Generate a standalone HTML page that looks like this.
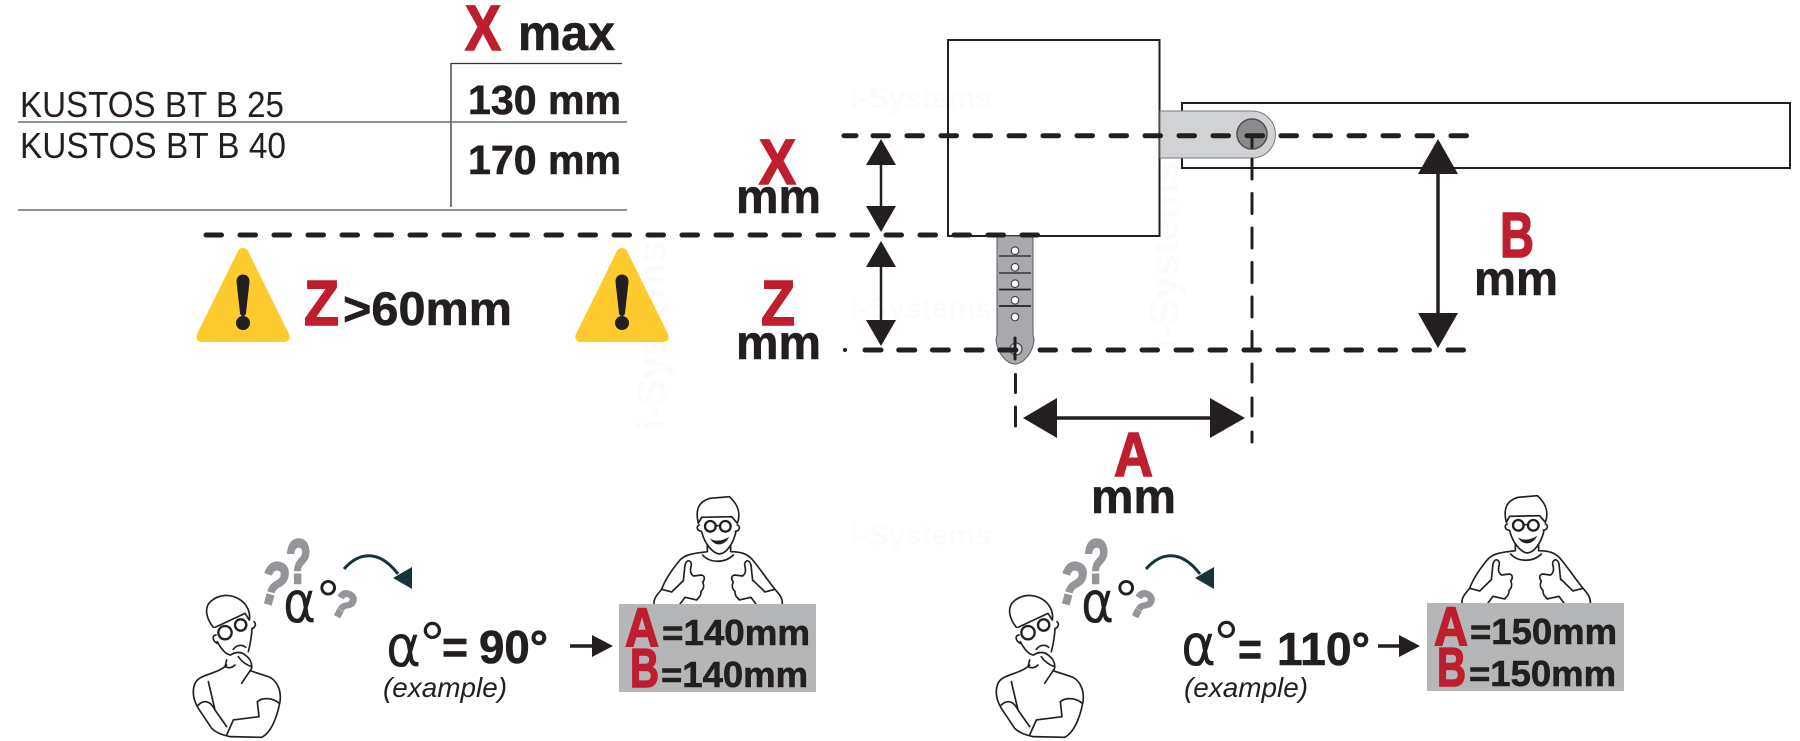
<!DOCTYPE html>
<html><head><meta charset="utf-8"><style>
html,body{margin:0;padding:0;background:#fff}
svg{display:block}
text{font-family:"Liberation Sans",sans-serif;fill:#231f20}
.b{font-weight:700;stroke:#231f20;stroke-width:.6}
.r{font-weight:700;fill:#be1e2d;stroke:#be1e2d;stroke-width:1.6}
.a{font-family:"DejaVu Sans",sans-serif}
.d{fill:none;stroke:#231f20;stroke-width:5;stroke-linecap:round;stroke-dasharray:15.500 18.500}
.v{fill:none;stroke:#231f20;stroke-width:3;stroke-linecap:round}
.p{fill:none;stroke:#231f20;stroke-width:5;stroke-linecap:round;stroke-linejoin:round}
.q{font-weight:700;fill:#939598;stroke:#939598;stroke-width:2.500}
.w{font-weight:700;fill:#fbfbfb}
</style></head><body>
<svg width="1800" height="741" viewBox="0 0 1800 741" xmlns="http://www.w3.org/2000/svg">
<defs>
<g id="thinker" transform="translate(180,520) scale(.3333)">
<path class="p" d="M100,322C78,295 72,262 92,244C118,222 150,222 175,236C200,250 212,275 208,300M105,322L195,280L208,300M108,345C96,345 96,362 112,370M112,365C122,385 138,405 152,405M160,388C170,375 185,372 197,382M222,305C230,312 225,322 218,325M216,325C215,350 210,375 205,395M152,405C165,395 185,395 195,405C210,415 217,430 215,445C205,460 195,475 185,490M175,410C185,425 200,435 215,440M140,420L135,440C145,445 155,445 165,435M140,435C110,465 60,460 45,490C35,515 40,540 55,565L95,625C110,640 130,645 150,650L245,652C270,640 290,600 300,545C305,510 290,480 265,470L210,452M55,555C70,540 90,540 105,570M298,550C280,535 250,530 232,545L237,590L160,600L140,645M85,485L105,570L140,620"/>
<circle cx="135" cy="338" r="20" fill="#fff" stroke="#231f20" stroke-width="7"/>
<circle cx="182" cy="315" r="17" fill="#fff" stroke="#231f20" stroke-width="7"/>
</g>
<g id="hand"><path class="p" d="M160,272L165,225C170,205 186,212 184,226C180,240 180,250 190,258L215,255C226,258 224,270 218,276C224,288 220,298 213,304C214,318 206,322 200,330L165,322L150,342"/></g>
<g id="happy" transform="translate(630,490) scale(.3333)">
<path class="p" d="M205,100C195,60 205,35 240,25L298,20C320,40 335,65 322,100M215,82L305,80L322,100M215,82L205,100M208,105C198,108 200,122 214,124M322,105C332,108 330,122 316,124M215,125C225,165 250,190 268,192C290,190 310,160 318,125M232,165L232,185M302,165L302,185M218,195C240,220 285,220 310,195M232,185C200,190 170,190 150,210C125,240 105,270 95,298C85,310 70,325 72,342M302,185C330,185 355,190 372,215C400,250 420,280 435,298C450,315 458,325 457,342M95,298L125,306M435,298L405,306M160,272L125,306M370,272L405,306"/>
<path d="M240,145C255,155 275,155 298,140C285,168 255,172 240,145Z" fill="#231f20"/>
<circle cx="241" cy="109" r="16" fill="#fff" stroke="#231f20" stroke-width="7"/>
<circle cx="286" cy="109" r="16" fill="#fff" stroke="#231f20" stroke-width="7"/>
<path class="p" d="M257,107L270,107"/>
<use href="#hand"/>
<use href="#hand" transform="translate(528,0) scale(-1,1)"/>
</g>
<g id="tri">
<path d="M243,248C246,248 248,250 249,253L289,334C291,339 288,342 284,342L202,342C198,342 195,339 197,334L237,253C238,250 240,248 243,248Z" fill="#fdcb2e"/>
<path d="M236.500,282C236,272 250,272 249.500,282L246,313C245.500,317 240.500,317 240,313Z" fill="#231f20"/>
<circle cx="243" cy="323" r="7" fill="#231f20"/>
</g>
<g id="curve">
<path d="M344,569C358,553 378,548 398,574" fill="none" stroke="#17343c" stroke-width="3"/>
<path d="M412,567L412,589L393,578Z" fill="#17343c"/>
</g>
<g id="qs">
<text class="q" x="286" y="583" font-size="62" textLength="25" lengthAdjust="spacingAndGlyphs">?</text>
<text class="q" font-size="60" textLength="27" lengthAdjust="spacingAndGlyphs" transform="translate(256,600) rotate(15)">?</text>
<text class="q" font-size="38" textLength="21" lengthAdjust="spacingAndGlyphs" transform="translate(329,611) rotate(28)">?</text>
<text class="a" x="283" y="622" font-size="58" textLength="33" lengthAdjust="spacingAndGlyphs">α</text>
<text x="317" y="619" font-size="56">°</text>
</g>
</defs>

<!-- faint watermarks -->
<g font-size="30">
<text class="w" x="850" y="108">i-Systems</text>
<text class="w" x="850" y="318">i-Systems</text>
<text class="w" x="850" y="545">i-Systems</text>
<text class="w" transform="translate(665,430) rotate(-90)" font-size="40">i-Systems</text>
<text class="w" transform="translate(1178,350) rotate(-90)" font-size="40">i-Systems</text>
</g>

<!-- table -->
<path d="M451,63.500H622M451,63V207" stroke="#333" stroke-width="1.300" fill="none"/>
<path d="M18,122H627M18,210H627" stroke="#5f6f78" stroke-width="1.600" fill="none"/>
<text x="20" y="117" font-size="36" textLength="264" lengthAdjust="spacingAndGlyphs">KUSTOS BT B 25</text>
<text x="20" y="158" font-size="36" textLength="266" lengthAdjust="spacingAndGlyphs">KUSTOS BT B 40</text>
<text class="r" x="465" y="50" font-size="64" textLength="36" lengthAdjust="spacingAndGlyphs">X</text>
<text class="b" x="518" y="50" font-size="50" textLength="97" lengthAdjust="spacingAndGlyphs">max</text>
<text class="b" x="468" y="114" font-size="41" textLength="153" lengthAdjust="spacingAndGlyphs">130 mm</text>
<text class="b" x="468" y="174" font-size="41" textLength="153" lengthAdjust="spacingAndGlyphs">170 mm</text>

<!-- mechanical drawing -->
<rect x="1182" y="103" width="608" height="65" fill="none" stroke="#231f20" stroke-width="2"/>
<rect x="948" y="40" width="211.500" height="196" fill="none" stroke="#231f20" stroke-width="2"/>
<path d="M1160,111L1252,111A23.500,23.500 0 0 1 1252,158L1160,158Z" fill="#d1d2d4" stroke="#77787b" stroke-width="1"/>
<circle cx="1252" cy="134" r="15" fill="#8a8b8d" stroke="#4d4d4f" stroke-width="1.500"/>
<path d="M997,236L997,335L996,340C997,352 1006,364 1015,364C1024,364 1033,352 1034,340L1033,335L1033,236Z" fill="#a7a9ac" stroke="#58595b" stroke-width="1"/>
<g fill="#fff" stroke="#444" stroke-width="1.200">
<circle cx="1015" cy="250.700" r="3.800"/><circle cx="1015" cy="267.300" r="3.800"/><circle cx="1015" cy="283.700" r="3.800"/><circle cx="1015" cy="300.300" r="3.800"/><circle cx="1015" cy="317" r="3.800"/><circle cx="1016" cy="349" r="6" fill="#ddd"/>
</g>
<path d="M999,256H1031M999,273H1031" stroke="#231f20" stroke-width="1.200"/>
<path d="M999,289.500H1031M999,306H1031" stroke="#231f20" stroke-width="1.800"/>

<!-- dashed lines -->
<path class="d" d="M206,235H1039"/>
<path class="d" d="M873,135.700H1470"/>
<path class="d" d="M844,135.700H856" style="stroke-dasharray:none"/>
<path class="d" d="M865,350H1020" style="stroke-dasharray:16 17.700"/>
<path class="d" d="M1040,350H1466"/>
<circle cx="845" cy="350" r="2" fill="#231f20"/>
<path class="v" d="M1015,338V359"/>
<path class="v" d="M1015.500,374.500V392.500M1015.500,407V426"/>
<path class="v" d="M1252,135V147M1252,159V179M1252,193.500V213.500M1252,228V248M1252,262.500V282.500M1252,297V317M1252,331.500V350M1252,364V382M1252,398V416M1252,432V442"/>

<!-- dimension arrows -->
<path d="M881,160V212" stroke="#231f20" stroke-width="2.500"/>
<path d="M881,139L896,165H866ZM881,232L866,206H896Z" fill="#231f20"/>
<path d="M881,262V325" stroke="#231f20" stroke-width="2.500"/>
<path d="M881,241L896,267H866ZM881,346L866,320H896Z" fill="#231f20"/>
<path d="M1438,170V318" stroke="#231f20" stroke-width="3.500"/>
<path d="M1438,139L1458,174H1418ZM1438,348L1418,313H1458Z" fill="#231f20"/>
<path d="M1050,418H1215" stroke="#231f20" stroke-width="3.500"/>
<path d="M1023,418L1057,398V438ZM1245,418L1210,398V438Z" fill="#231f20"/>

<!-- dimension labels -->
<text class="r" x="759" y="184" font-size="64" textLength="37" lengthAdjust="spacingAndGlyphs">X</text>
<text class="b" x="736" y="213" font-size="48" textLength="85" lengthAdjust="spacingAndGlyphs">mm</text>
<text class="r" x="761" y="325" font-size="64" textLength="34" lengthAdjust="spacingAndGlyphs">Z</text>
<text class="b" x="736" y="359" font-size="48" textLength="85" lengthAdjust="spacingAndGlyphs">mm</text>
<text class="r" x="1500" y="257" font-size="64" textLength="34" lengthAdjust="spacingAndGlyphs">B</text>
<text class="b" x="1474" y="295" font-size="48" textLength="84" lengthAdjust="spacingAndGlyphs">mm</text>
<text class="r" x="1114" y="476" font-size="62" textLength="39" lengthAdjust="spacingAndGlyphs">A</text>
<text class="b" x="1091" y="513" font-size="48" textLength="85" lengthAdjust="spacingAndGlyphs">mm</text>

<!-- warnings -->
<use href="#tri"/>
<use href="#tri" transform="translate(379,0)"/>
<text class="r" x="304" y="325" font-size="64" textLength="35" lengthAdjust="spacingAndGlyphs">Z</text>
<text class="b" x="343" y="325" font-size="47" textLength="169" lengthAdjust="spacingAndGlyphs">&gt;60mm</text>

<!-- left example -->
<use href="#thinker"/>
<use href="#qs"/>
<use href="#curve"/>
<text class="a" x="386" y="666" font-size="58" textLength="35" lengthAdjust="spacingAndGlyphs">α</text>
<text x="420" y="665" font-size="62">°</text>
<text class="b" x="442" y="663" font-size="46" textLength="26" lengthAdjust="spacingAndGlyphs">=</text>
<text class="b" x="479" y="663" font-size="46" textLength="69" lengthAdjust="spacingAndGlyphs">90°</text>
<text x="383" y="697" font-size="28" font-style="italic" textLength="124" lengthAdjust="spacingAndGlyphs">(example)</text>
<path d="M570,646H596" stroke="#231f20" stroke-width="3.500"/>
<path d="M613,646L592,635V657Z" fill="#231f20"/>
<use href="#happy"/>
<rect x="619" y="604" width="197" height="88" fill="#b5b6b8"/>
<text class="r" x="625" y="646" font-size="55" textLength="34" lengthAdjust="spacingAndGlyphs">A</text>
<text class="b" x="662" y="645" font-size="36" textLength="148" lengthAdjust="spacingAndGlyphs">=140mm</text>
<text class="r" x="630" y="687" font-size="55" textLength="29" lengthAdjust="spacingAndGlyphs">B</text>
<text class="b" x="661" y="687" font-size="36" textLength="147" lengthAdjust="spacingAndGlyphs">=140mm</text>

<!-- right example -->
<use href="#thinker" transform="translate(803,0)"/>
<use href="#qs" transform="translate(798,0)"/>
<use href="#curve" transform="translate(802,0)"/>
<text class="a" x="1181" y="665" font-size="58" textLength="35" lengthAdjust="spacingAndGlyphs">α</text>
<text x="1214" y="664" font-size="62">°</text>
<text class="b" x="1238" y="665" font-size="46" textLength="24" lengthAdjust="spacingAndGlyphs">=</text>
<text class="b" x="1277" y="665" font-size="46" textLength="93" lengthAdjust="spacingAndGlyphs">110°</text>
<text x="1184" y="697" font-size="28" font-style="italic" textLength="124" lengthAdjust="spacingAndGlyphs">(example)</text>
<path d="M1378,646H1404" stroke="#231f20" stroke-width="3.500"/>
<path d="M1420,646L1399,635V657Z" fill="#231f20"/>
<use href="#happy" transform="translate(808,-1)"/>
<rect x="1427" y="603" width="197" height="88" fill="#b5b6b8"/>
<text class="r" x="1434" y="645" font-size="55" textLength="34" lengthAdjust="spacingAndGlyphs">A</text>
<text class="b" x="1470" y="644" font-size="36" textLength="147" lengthAdjust="spacingAndGlyphs">=150mm</text>
<text class="r" x="1437" y="686" font-size="55" textLength="29" lengthAdjust="spacingAndGlyphs">B</text>
<text class="b" x="1469" y="686" font-size="36" textLength="147" lengthAdjust="spacingAndGlyphs">=150mm</text>
</svg>
</body></html>
